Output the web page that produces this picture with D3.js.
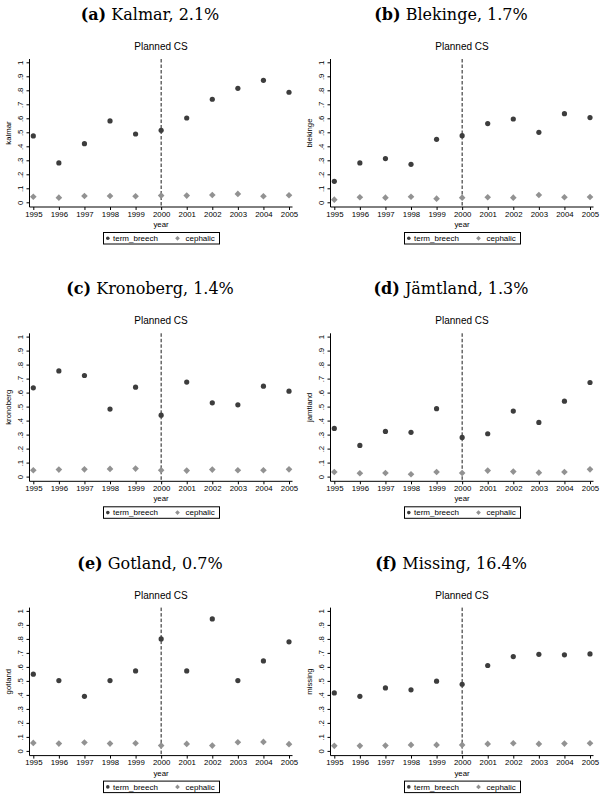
<!DOCTYPE html>
<html>
<head>
<meta charset="utf-8">
<script src="https://cdn.jsdelivr.net/npm/d3@7"></script>
<style>
  body { margin: 0; background: #fff; }
  svg { display: block; }
  .tick text { font-family: "Liberation Sans", Arial, sans-serif; }
</style>
</head>
<body>
<div id="chart"></div>
<script>
const years = [1995, 1996, 1997, 1998, 1999, 2000, 2001, 2002, 2003, 2004, 2005]
const yTicks = [0, 0.1, 0.2, 0.3, 0.4, 0.5, 0.6, 0.7, 0.8, 0.9, 1]

const panelLetters = ['a', 'b', 'c', 'd', 'e', 'f']
const panelNames = ['Kalmar, 2.1%', 'Blekinge, 1.7%', 'Kronoberg, 1.4%', 'Jämtland, 1.3%', 'Gotland, 0.7%', 'Missing, 16.4%']
const varNames = ['kalmar', 'blekinge', 'kronoberg', 'jamtland', 'gotland', 'missing']
const seriesNames = ['term_breech', 'cephalic']

const kalmarTerm = [0.474, 0.281, 0.419, 0.581, 0.488, 0.514, 0.602, 0.736, 0.814, 0.871, 0.786]
const kalmarCeph = [0.040, 0.033, 0.045, 0.045, 0.043, 0.048, 0.048, 0.052, 0.060, 0.043, 0.050]
const blekingeTerm = [0.150, 0.281, 0.312, 0.271, 0.450, 0.476, 0.562, 0.595, 0.500, 0.633, 0.605]
const blekingeCeph = [0.019, 0.036, 0.033, 0.040, 0.026, 0.033, 0.036, 0.033, 0.052, 0.036, 0.038]
const kronobergTerm = [0.634, 0.755, 0.722, 0.482, 0.639, 0.439, 0.675, 0.527, 0.513, 0.646, 0.610]
const kronobergCeph = [0.045, 0.050, 0.052, 0.055, 0.057, 0.045, 0.043, 0.050, 0.045, 0.045, 0.052]
const jamtlandTerm = [0.344, 0.223, 0.323, 0.316, 0.485, 0.280, 0.306, 0.468, 0.387, 0.539, 0.672]
const jamtlandCeph = [0.033, 0.024, 0.026, 0.017, 0.033, 0.026, 0.043, 0.036, 0.028, 0.033, 0.052]
const gotlandTerm = [0.548, 0.502, 0.390, 0.502, 0.571, 0.800, 0.571, 0.943, 0.502, 0.643, 0.779]
const gotlandCeph = [0.057, 0.052, 0.060, 0.052, 0.055, 0.038, 0.050, 0.038, 0.062, 0.064, 0.048]
const missingTerm = [0.414, 0.390, 0.450, 0.436, 0.498, 0.476, 0.610, 0.674, 0.690, 0.686, 0.693]
const missingCeph = [0.036, 0.036, 0.038, 0.043, 0.043, 0.043, 0.050, 0.055, 0.050, 0.052, 0.055]

const termSeries = [kalmarTerm, blekingeTerm, kronobergTerm, jamtlandTerm, gotlandTerm, missingTerm]
const cephSeries = [kalmarCeph, blekingeCeph, kronobergCeph, jamtlandCeph, gotlandCeph, missingCeph]

const width = 600
const height = 798
const colStep = 301
const rowStep = 274.3

const sans = '"Liberation Sans", Arial, sans-serif'
const serif = '"DejaVu Serif", serif'
const termColor = '#3d3d3d'
const cephColor = '#929292'

// plot region inside one panel
const plotTop = 59
const plotBottom = 207
const plotLeft = 29.5
const plotRight = 292.5

const xScale = d3.scaleLinear().domain([1995, 2005]).range([33.3, 289])
const yScale = d3.scaleLinear().domain([0, 1]).range([202.3, 62.3])

const svg = d3.select('#chart').append('svg')
    .attr('width', width)
    .attr('height', height)

const diamond = d3.symbol().type(d3.symbolSquare).size(22)

const fmtY = (v) => {
    if (v === 0) return '0'
    if (v === 1) return '1'
    return '.' + Math.round(v * 10)
}

panelNames.forEach((name, i) => {
    const col = i % 2
    const row = Math.floor(i / 2)
    const g = svg.append('g')
        .attr('transform', `translate(${col * colStep}, ${row * rowStep})`)

    drawPanel(g, i)
})

function drawPanel(g, i) {
    const cx = (plotLeft + plotRight) / 2

    // panel caption
    const cap = g.append('text')
        .attr('x', 150)
        .attr('y', 20)
        .attr('text-anchor', 'middle')
        .style('font-family', serif)
        .style('font-size', '16px')
        .attr('fill', '#000')
    cap.append('tspan').style('font-weight', 'bold').text(`(${panelLetters[i]})`)
    cap.append('tspan').text(' ' + panelNames[i])

    g.append('text')
        .attr('x', cx)
        .attr('y', 50)
        .attr('text-anchor', 'middle')
        .style('font-family', sans)
        .style('font-size', '10px')
        .text('Planned CS')

    // axes
    const yAxis = d3.axisLeft(yScale)
        .tickValues(yTicks)
        .tickFormat(fmtY)
        .tickSize(3)
        .tickSizeOuter(0)

    const ya = g.append('g')
        .attr('transform', `translate(${plotLeft}, 0)`)
        .call(yAxis)
    ya.select('.domain').remove()
    ya.selectAll('.tick text')
        .attr('x', 0)
        .attr('dy', 0)
        .attr('text-anchor', 'middle')
        .attr('transform', 'translate(-6.3, 0) rotate(-90)')
        .style('font-size', '7.8px')
        .attr('fill', '#000')

    const xAxis = d3.axisBottom(xScale)
        .tickValues(years)
        .tickFormat(d3.format('d'))
        .tickSize(3)
        .tickSizeOuter(0)

    const xa = g.append('g')
        .attr('transform', `translate(0, ${plotBottom})`)
        .call(xAxis)
    xa.select('.domain').remove()
    xa.selectAll('.tick text')
        .attr('y', 9.7)
        .attr('dy', 0)
        .style('font-size', '7.8px')
        .attr('fill', '#000')

    g.append('line')
        .attr('x1', plotLeft).attr('x2', plotLeft)
        .attr('y1', plotTop).attr('y2', plotBottom)
        .attr('stroke', '#000').attr('stroke-width', 1)
    g.append('line')
        .attr('x1', plotLeft).attr('x2', plotRight)
        .attr('y1', plotBottom).attr('y2', plotBottom)
        .attr('stroke', '#000').attr('stroke-width', 1)

    g.append('text')
        .attr('transform', `translate(10.5, ${(plotTop + plotBottom) / 2}) rotate(-90)`)
        .attr('text-anchor', 'middle')
        .style('font-family', sans)
        .style('font-size', '7.8px')
        .text(varNames[i])

    g.append('text')
        .attr('x', cx)
        .attr('y', 227)
        .attr('text-anchor', 'middle')
        .style('font-family', sans)
        .style('font-size', '7.8px')
        .text('year')

    // reference line at 2000
    g.append('line')
        .attr('x1', xScale(2000)).attr('x2', xScale(2000))
        .attr('y1', plotTop).attr('y2', plotBottom)
        .attr('stroke', '#000')
        .attr('stroke-width', 0.9)
        .attr('stroke-dasharray', '3.5,2')

    // markers
    g.append('g').selectAll('path')
        .data(cephSeries[i])
        .enter()
        .append('path')
        .attr('d', diamond)
        .attr('transform', (d, j) => `translate(${xScale(years[j])}, ${yScale(d)}) rotate(45)`)
        .attr('fill', cephColor)

    g.append('g').selectAll('circle')
        .data(termSeries[i])
        .enter()
        .append('circle')
        .attr('cx', (d, j) => xScale(years[j]))
        .attr('cy', (d) => yScale(d))
        .attr('r', 2.6)
        .attr('fill', termColor)

    // legend
    const lg = g.append('g')
    lg.append('rect')
        .attr('x', 103.5).attr('y', 232.5)
        .attr('width', 116).attr('height', 11.5)
        .attr('fill', 'none')
        .attr('stroke', '#000')
        .attr('stroke-width', 1)
    lg.append('circle')
        .attr('cx', 107.8).attr('cy', 238.3).attr('r', 1.8)
        .attr('fill', termColor)
    lg.append('text')
        .attr('x', 113).attr('y', 241)
        .style('font-family', sans)
        .style('font-size', '8px')
        .text(seriesNames[0])
    lg.append('path')
        .attr('d', d3.symbol().type(d3.symbolSquare).size(11))
        .attr('transform', 'translate(177.5, 238.3) rotate(45)')
        .attr('fill', cephColor)
    lg.append('text')
        .attr('x', 185.5).attr('y', 241)
        .style('font-family', sans)
        .style('font-size', '8px')
        .text(seriesNames[1])
}
</script>
</body>
</html>
